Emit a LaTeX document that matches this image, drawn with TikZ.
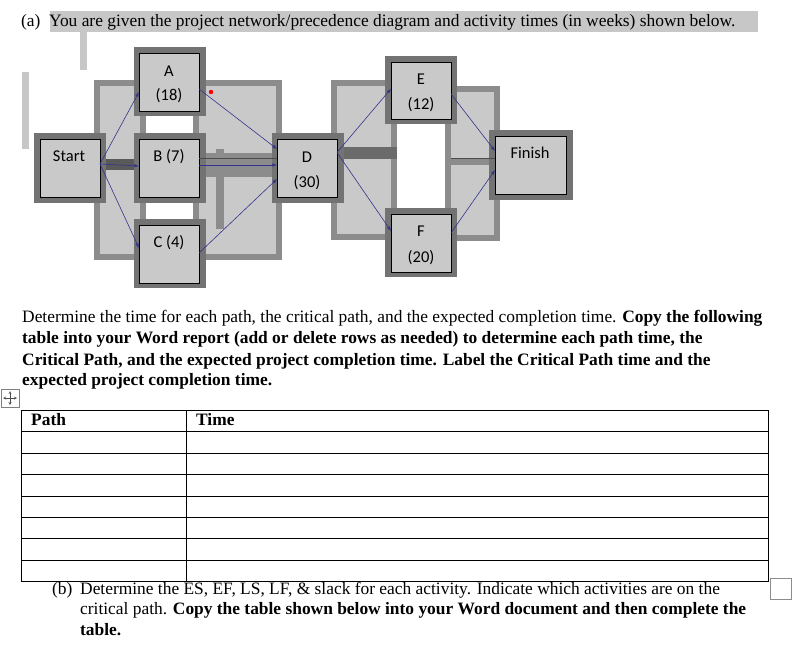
\documentclass[tikz,border=0pt]{standalone}
\usepackage{fontspec}
\setmainfont{Liberation Serif}
\newfontfamily\calib{Carlito}
\begin{document}
\begin{tikzpicture}[x=1pt,y=-1pt,
  txt/.style={anchor=base west,inner sep=0pt,font=\fontsize{17.4}{20}\selectfont},
  frame/.style={draw=black!45,line width=6pt,fill=black!21},
  act/.style={draw=black,fill=black!21,line width=0.9pt,inner sep=0pt},
  lab/.style={anchor=base,inner sep=0pt,font=\calib\fontsize{16.5}{19}\selectfont},
  arr/.style={draw=blue!45!black!80,-latex,line width=0.6pt}]
\useasboundingbox (0,0) rectangle (798,652);
\fill[white] (0,0) rectangle (798,652);
% heading
\fill[black!22] (50,11) rectangle (758,32);
\node[txt] (ha) at (21,27) {(a)\ \ You are given the project network/precedence diagram and activity times (in weeks) shown below.};
\fill[black!22] (80,30) rectangle (87,70);
\fill[black!22] (22,72) rectangle (29,149);
% background frames
\draw[frame] (97,83) rectangle (143,257);
\draw[frame] (196,83) rectangle (279,257);
\draw[frame] (334,83) rectangle (394,237);
\draw[frame] (448,89) rectangle (497,161);
\draw[frame] (448,162) rectangle (497,238);
\fill[black!65] (94,159) rectangle (146,170);
\fill[black!58] (331,147.5) rectangle (397,159);
\fill[black!45] (193,153.5) rectangle (277,176.6);
\fill[black!45] (216,149) rectangle (224,229);
% node frames
\foreach \x/\y/\w/\h in {37/136/66/64, 137/50.5/66/63, 137/136/66/64, 137/222.5/66/63, 275/136/66/64, 388/59/66/62, 388/211.5/66/62.5, 492/133/78/64}
  \draw[draw=black!55,line width=6pt] (\x,\y) rectangle ++(\w,\h);
\draw[act] (40,139) rectangle (100,197) coordinate (S);
\draw[act] (139,53.5) rectangle (199,111) coordinate (A);
\draw[act] (139,139) rectangle (199,197) coordinate (B);
\draw[act] (139,225) rectangle (199,283) coordinate (C);
\draw[act] (277,139) rectangle (337,197) coordinate (D);
\draw[act] (391,62) rectangle (451,119) coordinate (E);
\draw[act] (391,214.5) rectangle (451,272) coordinate (F);
\draw[act] (495,136) rectangle (566,194) coordinate (Fi);
\node[lab] (tS) at (69,162) {Start};
\node[lab] (tA1) at (169,77) {A};
\node[lab] (tA2) at (169,101) {(18)};
\node[lab] (tB) at (169,162) {B (7)};
\node[lab] (tC) at (169,248) {C (4)};
\node[lab] (tD1) at (307,162.5) {D};
\node[lab] (tD2) at (307,188) {(30)};
\node[lab] (tE1) at (421,85) {E};
\node[lab] (tE2) at (421,110) {(12)};
\node[lab] (tF1) at (421,237) {F};
\node[lab] (tF2) at (421,263) {(20)};
\node[lab] (tFi) at (530,159) {Finish};
\draw[black!70,line width=0.5pt] (199,158.5) -- (277,158.5);
\draw[black!70,line width=0.5pt] (451,158.5) -- (495,158.5);
\fill[red] (211,92) circle (2.2pt);
% arrows
\coordinate (s0) at (100,164);
\draw[arr] (s0) -- (139,92);
\draw[arr] (s0) -- (139,166);
\draw[arr] (s0) -- (139,248);
\draw[arr] (199,89) -- (277,149);
\draw[arr] (199,165) -- (277,165);
\draw[arr] (199,253) -- (277,179);
\draw[arr] (337,152.5) -- (391,88.7);
\draw[arr] (337,152.5) -- (391,231);
\draw[arr] (451,94) -- (495,151);
\draw[arr] (451,233) -- (495,170);
% paragraph
\node[txt] (p1) at (22,323) {Determine the time for each path, the critical path, and the expected completion time. \textbf{Copy the following}};
\node[txt] (p2) at (22,344) {\textbf{table into your Word report (add or delete rows as needed) to determine each path time, the}};
\node[txt] (p3) at (22,365) {\textbf{Critical Path, and the expected project completion time. Label the Critical Path time and the}};
\node[txt] (p4) at (22,385) {\textbf{expected project completion time.}};
% move icon
\draw[black!50] (1,389) rectangle (19,407);
\draw[black!70,<->,>=stealth] (3,398) -- (17,398);
\draw[black!70,<->,>=stealth] (10,391) -- (10,405);
% table
\draw[line width=0.8pt] (21,410) rectangle (768,581);
\foreach \y in {431.5,453,474,496,517,538,560} \draw[line width=0.8pt] (21,\y) -- (768,\y);
\draw[line width=0.8pt] (186,410) -- (186,581);
\node[txt] (th1) at (31,425) {\textbf{Path}};
\node[txt] (th2) at (196,425) {\textbf{Time}};
% (b)
\node[txt] (b0) at (52,594) {(b)};
\node[txt] (b1) at (80,594) {Determine the ES, EF, LS, LF, \& slack for each activity. Indicate which activities are on the};
\node[txt] (b2) at (80,614) {critical path. \textbf{Copy the table shown below into your Word document and then complete the}};
\node[txt] (b3) at (80,635) {\textbf{table.}};
\draw[black!45,line width=0.8pt] (770,578) rectangle (791,599);
\end{tikzpicture}
\end{document}
